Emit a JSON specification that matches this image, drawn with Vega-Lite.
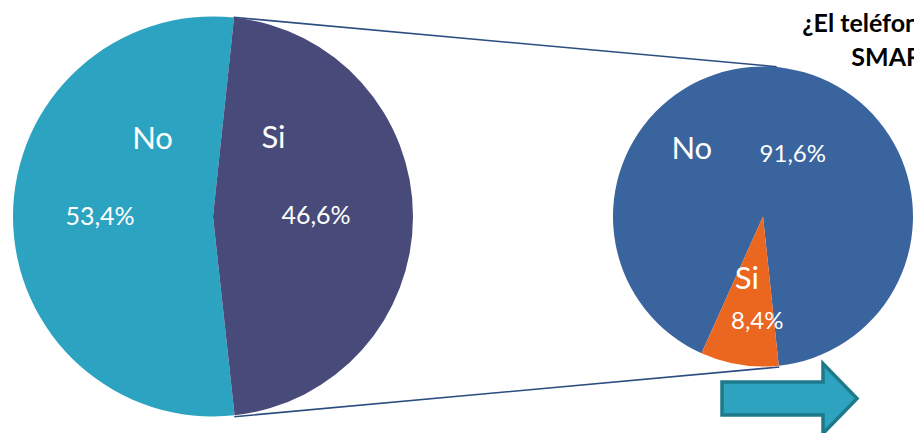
{
  "$schema": "https://vega.github.io/schema/vega-lite/v6.json",
  "width": 914,
  "height": 433,
  "padding": 0,
  "autosize": {"type": "none"},
  "background": "white",
  "config": {"view": {"stroke": null}},
  "title": {
    "text": ["¿El teléfono que tienes es", "SMARTPHONE?"],
    "anchor": "start",
    "align": "center",
    "baseline": "top",
    "dx": 944,
    "offset": -71,
    "font": "Lato",
    "fontSize": 25,
    "fontWeight": "bold",
    "lineHeight": 34,
    "color": "black"
  },
  "layer": [
    {
      "data": {"values": [{"pie": "Total"}]},
      "mark": {
        "type": "point",
        "shape": "M 20.5 -199.2 L 563.7 -149.8 M 21.3 200.2 L 566.3 150.5",
        "size": 4,
        "filled": false,
        "stroke": "#2C4D80",
        "strokeWidth": 1.6,
        "opacity": 1
      },
      "encoding": {
        "x": {"field": "pie", "type": "nominal", "scale": {"type": "point", "domain": ["Total", "Smart"], "range": [213, 763], "padding": 0}, "axis": null}
      }
    },
    {
      "data": {"values": [
        {"pie": "Total", "label": "No", "pct": 53.4, "texto": "53,4%"},
        {"pie": "Total", "label": "Si", "pct": 46.6, "texto": "46,6%"}
      ]},
      "encoding": {
        "x": {"field": "pie", "type": "nominal", "axis": null},
        "theta": {"field": "pct", "type": "quantitative", "stack": true, "scale": {"range": [3.0334, 9.3166]}},
        "order": {"field": "label", "type": "ordinal"}
      },
      "layer": [
        {
          "mark": {"type": "arc", "outerRadius": 200},
          "encoding": {
            "color": {"field": "label", "type": "nominal", "scale": {"domain": ["No", "Si"], "range": ["#2CA3C0", "#484B79"]}, "legend": null}
          }
        },
        {
          "mark": {"type": "text", "radius": 108, "dx": -5, "font": "Lato", "fontSize": 25, "baseline": "middle", "color": "white"},
          "encoding": {"text": {"field": "texto"}}
        },
        {
          "mark": {"type": "text", "radius": 60.5, "dy": -77, "font": "Lato", "fontSize": 31, "baseline": "middle", "color": "white"},
          "encoding": {"text": {"field": "label"}}
        }
      ]
    },
    {
      "data": {"values": [
        {"pie": "Smart", "label": "No", "pct": 91.6, "texto": "91,6%"},
        {"pie": "Smart", "label": "Si", "pct": 8.4, "texto": "8,4%"}
      ]},
      "encoding": {
        "x": {"field": "pie", "type": "nominal", "axis": null},
        "theta": {"field": "pct", "type": "quantitative", "stack": true, "scale": {"range": [3.564, 9.8472]}},
        "order": {"field": "label", "type": "ordinal"}
      },
      "layer": [
        {
          "mark": {"type": "arc", "outerRadius": 150},
          "encoding": {
            "color": {"field": "label", "type": "nominal", "scale": {"domain": ["No", "Si"], "range": ["#3A649E", "#EB661E"]}, "legend": null}
          }
        },
        {
          "mark": {"type": "text", "radius": 62, "dx": 20, "font": "Lato", "fontSize": 24, "baseline": "middle", "color": "white"},
          "encoding": {"text": {"condition": {"test": "datum.label === 'No'", "field": "texto"}, "value": ""}}
        },
        {
          "mark": {"type": "text", "radius": 62, "dx": -81, "dy": -5, "font": "Lato", "fontSize": 31, "baseline": "middle", "color": "white"},
          "encoding": {"text": {"condition": {"test": "datum.label === 'No'", "field": "label"}, "value": ""}}
        },
        {
          "mark": {"type": "text", "radius": 64, "dx": -6, "font": "Lato", "fontSize": 31, "baseline": "middle", "color": "white"},
          "encoding": {"text": {"condition": {"test": "datum.label === 'Si'", "field": "label"}, "value": ""}}
        },
        {
          "mark": {"type": "text", "radius": 106, "dx": 11, "dy": 1, "font": "Lato", "fontSize": 24, "baseline": "middle", "color": "white"},
          "encoding": {"text": {"condition": {"test": "datum.label === 'Si'", "field": "texto"}, "value": ""}}
        }
      ]
    },
    {
      "data": {"values": [{"pie": "Smart"}]},
      "mark": {
        "type": "point",
        "shape": "M -41 165.5 L 60 165.5 L 60 147 L 94 182 L 60 217 L 60 198.5 L -41 198.5 Z",
        "size": 4,
        "filled": true,
        "fill": "#2DA3C0",
        "stroke": "#1E7A8B",
        "strokeWidth": 3.5,
        "opacity": 1
      },
      "encoding": {
        "x": {"field": "pie", "type": "nominal", "axis": null}
      }
    }
  ],
  "resolve": {"scale": {"theta": "independent", "color": "independent"}}
}
